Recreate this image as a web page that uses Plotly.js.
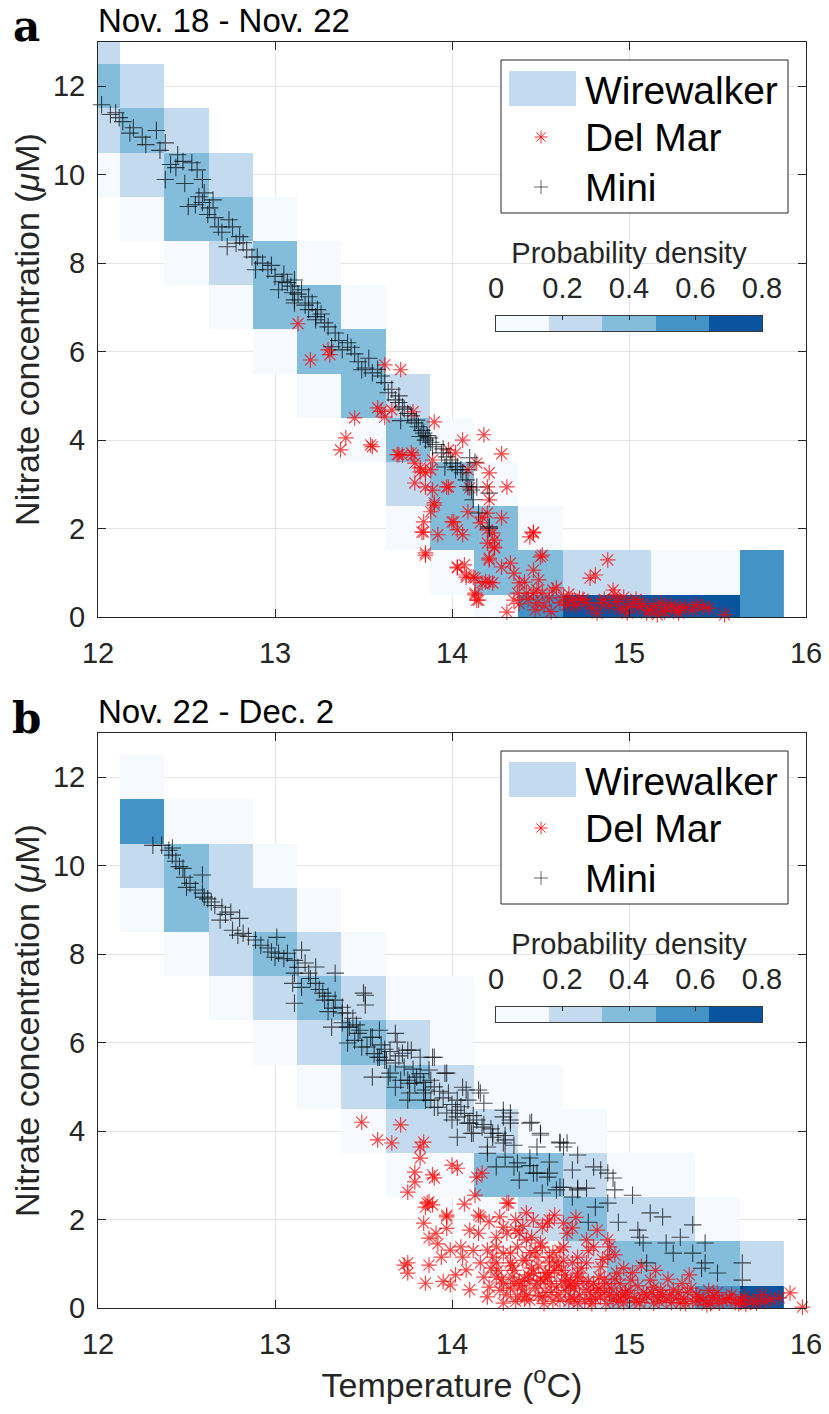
<!DOCTYPE html>
<html><head><meta charset="utf-8">
<script src="https://cdn.plot.ly/plotly-3.0.1.min.js"></script>
<style>html,body{margin:0;padding:0;background:#fff}#chart{width:829px;height:1414px}</style>
</head><body><div id="chart"></div>
<script>
// ---------- DATA ----------
const panelTitles = ['Nov. 18 - Nov. 22', 'Nov. 22 - Dec. 2'];
const panelLetters = ['a', 'b'];
const seriesNames = ['Wirewalker', 'Del Mar', 'Mini'];
const tempTicks = [12, 13, 14, 15, 16];
const nitrateTicks = [0, 2, 4, 6, 8, 10, 12];
const densityTicks = [0, 0.2, 0.4, 0.6, 0.8];
const densityTickText = ['0', '0.2', '0.4', '0.6', '0.8'];
const densityLevels = [0.08, 0.24, 0.40, 0.56, 0.72];
const densityColors = ['#f6faff', '#c4daee', '#84bcdb', '#4393c7', '#0a539e'];

// Wirewalker histogram bin centres
const binTemp = [12.0, 12.25, 12.5, 12.75, 13.0, 13.25, 13.5, 13.75, 14.0, 14.25, 14.5, 14.75, 15.0, 15.25, 15.5, 15.75];
const binNitrate = [0, 1, 2, 3, 4, 5, 6, 7, 8, 9, 10, 11, 12, 13];
const n = null;
// probability density, rows = nitrate bins (0..13), cols = temperature bins
const densityA = [
  [n,n,n,n,n,n,n,n,n,.06,.55,.75,.78,.70,.68,.58],
  [n,n,n,n,n,n,n,n,.05,.42,.38,.22,.20,.10,.09,.52],
  [n,n,n,n,n,n,n,.04,.41,.36,.07,n,n,n,n,n],
  [n,n,n,n,n,n,n,.25,.39,.06,n,n,n,n,n,n],
  [n,n,n,n,n,n,.05,.44,.08,n,n,n,n,n,n,n],
  [n,n,n,n,n,.06,.40,.27,n,n,n,n,n,n,n,n],
  [n,n,n,n,.05,.43,.38,n,n,n,n,n,n,n,n,n],
  [n,n,n,.07,.37,.41,.06,n,n,n,n,n,n,n,n,n],
  [n,n,.05,.26,.39,.04,n,n,n,n,n,n,n,n,n,n],
  [n,.06,.36,.40,.08,n,n,n,n,n,n,n,n,n,n,n],
  [.07,.22,.42,.24,n,n,n,n,n,n,n,n,n,n,n,n],
  [.21,.38,.19,n,n,n,n,n,n,n,n,n,n,n,n,n],
  [.36,.25,n,n,n,n,n,n,n,n,n,n,n,n,n,n],
  [.23,n,n,n,n,n,n,n,n,n,n,n,n,n,n,n]
];
const densityB = [
  [n,n,n,n,n,n,n,n,n,n,.06,.18,.40,.44,.57,.74],
  [n,n,n,n,n,n,n,n,n,.05,.09,.26,.37,.41,.35,.24],
  [n,n,n,n,n,n,n,n,n,.07,.22,.39,.28,.19,.06,n],
  [n,n,n,n,n,n,n,.04,.10,.36,.40,.21,.05,.03,n,n],
  [n,n,n,n,n,n,.05,.20,.27,.23,.08,.04,n,n,n,n],
  [n,n,n,n,n,.06,.25,.42,.18,.05,.03,n,n,n,n,n],
  [n,n,n,n,.07,.21,.39,.24,.06,n,n,n,n,n,n,n],
  [n,n,n,.05,.26,.36,.19,.07,.04,n,n,n,n,n,n,n],
  [n,n,.06,.23,.38,.28,.05,n,n,n,n,n,n,n,n,n],
  [n,.08,.40,.27,.18,.04,n,n,n,n,n,n,n,n,n,n],
  [n,.22,.35,.20,.05,n,n,n,n,n,n,n,n,n,n,n],
  [n,.57,.09,.06,n,n,n,n,n,n,n,n,n,n,n,n],
  [n,.07,n,n,n,n,n,n,n,n,n,n,n,n,n,n],
  [n,n,n,n,n,n,n,n,n,n,n,n,n,n,n,n]
];

// Mini mooring, panel a
const miniA_T = [12.02,12.07,12.10,12.12,12.14,12.18,12.20,12.25,12.27,12.33,12.35,12.38,12.38,12.41,12.44,12.45,12.48,12.49,12.51,12.53,12.55,12.56,12.57,12.59,12.59,12.60,12.62,12.63,12.65,12.66,12.68,12.70,12.73,12.74,12.76,12.78,12.80,12.82,12.84,12.87,12.89,12.90,12.93,12.96,12.98,13.00,13.02,13.04,13.05,13.07,13.09,13.10,13.11,13.11,13.11,13.13,13.15,13.17,13.19,13.19,13.21,13.23,13.23,13.24,13.26,13.28,13.30,13.32,13.34,13.36,13.38,13.41,13.43,13.45,13.47,13.49,13.51,13.53,13.55,13.58,13.60,13.62,13.64,13.66,13.68,13.70,13.70,13.71,13.72,13.73,13.75,13.77,13.79,13.80,13.81,13.82,13.83,13.84,13.85,13.86,13.87,13.88,13.89,13.91,13.94,13.95,13.96,13.97,13.99,14.00,14.02,14.03,14.05,14.06,14.08,14.09,14.10,14.11,14.12,14.13,14.14,14.15,14.21,14.21,14.21];
const miniA_N = [11.58,11.36,11.40,11.29,11.20,10.94,11.06,10.85,10.68,11.00,10.55,10.72,9.89,10.23,10.16,10.45,10.30,9.80,9.28,10.27,9.32,10.11,9.50,9.89,9.37,9.59,9.10,9.25,9.43,9.03,8.82,8.70,8.37,8.98,8.82,8.45,8.60,8.46,8.30,8.14,7.85,8.14,8.00,7.85,7.95,7.70,7.40,7.58,7.75,7.56,7.48,7.33,7.62,7.17,7.10,7.30,7.40,7.05,7.24,6.95,7.10,6.79,6.72,6.95,6.85,6.65,6.56,6.11,6.42,6.25,6.04,6.20,6.10,5.95,5.77,5.59,5.63,5.85,5.52,5.60,5.45,5.30,5.07,5.15,4.91,5.00,4.85,4.44,4.75,4.70,4.60,4.55,4.39,4.45,4.30,4.08,4.22,4.16,4.00,4.10,4.05,3.95,3.85,3.90,3.71,3.80,3.39,3.62,3.55,3.48,3.33,3.40,3.33,3.26,3.10,2.95,3.60,2.87,2.65,3.50,2.94,2.35,2.04,2.80,2.01];

// Del Mar mooring, panel a
const delmarA_T = [13.13,13.20,13.30,13.31,13.37,13.40,13.45,13.54,13.55,13.58,13.60,13.62,13.62,13.66,13.69,13.70,13.71,13.72,13.77,13.78,13.78,13.79,13.79,13.82,13.82,13.83,13.84,13.84,13.85,13.85,13.85,13.85,13.88,13.88,13.89,13.89,13.90,13.90,13.90,13.92,13.97,13.98,13.98,14.00,14.01,14.02,14.03,14.03,14.03,14.06,14.06,14.07,14.08,14.08,14.09,14.09,14.10,14.12,14.13,14.13,14.13,14.14,14.14,14.15,14.16,14.17,14.17,14.18,14.19,14.20,14.20,14.20,14.20,14.21,14.21,14.21,14.21,14.21,14.23,14.23,14.24,14.24,14.24,14.28,14.28,14.28,14.31,14.31,14.33,14.35,14.35,14.37,14.38,14.38,14.41,14.42,14.43,14.44,14.46,14.46,14.46,14.46,14.47,14.48,14.48,14.49,14.50,14.51,14.51,14.52,14.55,14.56,14.57,14.59,14.61,14.63,14.65,14.66,14.68,14.70,14.72,14.74,14.76,14.78,14.79,14.81,14.82,14.84,14.86,14.88,14.89,14.91,14.92,14.93,14.95,14.97,14.99,14.99,15.02,15.04,15.06,15.08,15.10,15.12,15.14,15.16,15.18,15.20,15.21,15.24,15.26,15.28,15.29,15.32,15.36,15.38,15.42,15.45,15.54];
const delmarA_N = [6.63,5.81,6.04,5.93,3.78,4.05,4.50,3.89,3.85,4.73,4.65,5.70,4.52,4.68,3.67,3.67,5.59,3.66,3.71,4.64,3.66,3.48,3.03,3.37,3.28,1.92,2.15,1.92,3.26,2.94,1.45,1.40,3.33,2.38,3.55,2.87,4.41,2.53,2.58,1.86,2.94,3.78,2.94,2.15,2.15,3.71,1.97,1.13,1.11,4.00,1.86,1.18,0.95,0.90,3.33,2.38,2.92,0.90,0.88,0.54,0.50,3.48,0.38,0.38,2.13,2.26,0.77,4.12,0.80,2.94,2.35,1.97,1.67,3.26,2.65,1.33,1.29,0.79,1.90,0.77,1.74,1.56,1.58,3.69,2.24,1.13,2.94,0.11,1.22,0.99,0.38,0.54,0.77,0.30,0.79,0.54,0.40,1.81,1.92,1.90,1.06,0.54,0.16,0.61,0.32,0.84,1.36,1.40,0.54,0.25,0.43,0.12,0.61,0.66,0.32,0.45,0.27,0.52,0.38,0.25,0.43,0.40,0.32,0.88,0.20,0.95,0.09,0.32,0.40,1.29,0.25,0.61,0.50,0.35,0.18,0.45,0.23,0.09,0.30,0.40,0.23,0.30,0.09,0.16,0.25,0.05,0.32,0.12,0.20,0.28,0.15,0.09,0.23,0.22,0.16,0.28,0.23,0.20,0.05];

// Mini mooring, panel b
const miniB_T = [12.31,12.36,12.40,12.42,12.42,12.44,12.46,12.48,12.49,12.50,12.52,12.55,12.59,12.59,12.60,12.62,12.64,12.66,12.69,12.70,12.72,12.75,12.76,12.79,12.80,12.82,12.85,12.89,12.92,12.96,12.98,13.00,13.01,13.02,13.05,13.07,13.10,13.11,13.11,13.11,13.13,13.15,13.15,13.17,13.19,13.20,13.23,13.23,13.25,13.27,13.28,13.30,13.30,13.32,13.33,13.34,13.34,13.38,13.38,13.38,13.41,13.41,13.41,13.42,13.44,13.45,13.46,13.47,13.48,13.49,13.50,13.51,13.51,13.52,13.54,13.55,13.55,13.56,13.58,13.59,13.59,13.60,13.62,13.62,13.63,13.64,13.65,13.65,13.68,13.68,13.68,13.69,13.70,13.71,13.72,13.73,13.75,13.75,13.75,13.76,13.76,13.77,13.78,13.79,13.80,13.82,13.82,13.84,13.84,13.85,13.85,13.87,13.88,13.88,13.89,13.90,13.90,13.90,13.92,13.93,13.95,13.96,13.97,13.97,13.98,14.00,14.00,14.02,14.03,14.03,14.03,14.05,14.06,14.07,14.08,14.09,14.09,14.10,14.11,14.12,14.12,14.14,14.15,14.16,14.17,14.18,14.18,14.20,14.20,14.22,14.23,14.23,14.25,14.26,14.29,14.29,14.29,14.30,14.30,14.30,14.33,14.33,14.33,14.35,14.35,14.37,14.38,14.44,14.44,14.44,14.45,14.46,14.48,14.48,14.50,14.50,14.51,14.54,14.55,14.55,14.59,14.61,14.61,14.61,14.63,14.63,14.65,14.68,14.68,14.71,14.71,14.71,14.76,14.77,14.80,14.81,14.84,14.88,14.88,14.91,14.92,14.94,15.02,15.05,15.06,15.08,15.10,15.12,15.19,15.21,15.25,15.29,15.36,15.36,15.41,15.43,15.43,15.50,15.64,15.64];
const miniB_N = [10.46,10.46,10.35,10.40,10.24,10.10,9.98,9.94,9.74,9.51,9.60,9.45,9.79,9.38,9.29,9.25,9.18,9.10,8.77,9.06,8.90,8.95,8.54,8.43,8.81,8.47,8.40,8.32,8.20,8.14,8.05,7.93,8.38,8.02,7.90,8.02,7.34,7.86,7.57,6.89,7.70,8.09,7.25,7.80,7.57,7.45,7.71,7.34,7.20,7.12,6.96,7.05,6.70,6.35,6.78,7.57,6.96,6.80,6.67,6.45,6.67,6.35,5.99,6.35,6.55,6.05,6.40,6.21,6.28,5.90,7.12,7.07,6.85,5.90,6.12,6.12,5.22,5.75,5.67,6.28,5.67,5.95,5.85,5.60,5.60,5.22,5.80,5.31,6.21,5.54,4.99,6.01,5.70,5.15,5.76,5.45,5.83,5.15,4.70,5.08,4.86,5.83,5.40,5.08,5.22,5.67,5.30,5.10,4.86,4.93,4.70,5.38,5.15,4.70,5.67,5.67,5.00,4.54,4.54,4.90,4.75,5.31,5.31,4.41,4.86,4.60,4.25,4.47,4.70,4.32,3.86,4.55,4.99,4.40,4.93,4.70,4.18,4.18,3.95,4.35,3.95,4.25,4.93,4.86,4.09,4.63,4.15,3.64,3.50,4.05,3.95,3.86,3.19,3.95,4.47,4.32,3.73,3.90,3.80,3.41,4.41,4.25,4.18,3.68,3.19,3.28,2.89,4.18,3.39,3.22,4.20,3.05,3.64,3.05,3.95,3.91,2.60,2.96,3.30,3.05,2.67,3.75,3.73,2.73,3.64,2.73,3.73,3.12,2.51,3.46,2.71,2.67,2.71,1.94,3.19,2.28,3.12,3.05,2.37,2.94,2.67,1.94,2.55,1.76,1.60,1.47,1.02,2.15,2.06,1.47,1.24,1.60,1.88,1.24,0.90,1.47,1.02,0.79,1.02,0.63];

// Del Mar mooring, panel b
const delmarB_T = [13.49,13.58,13.66,13.71,13.73,13.75,13.75,13.75,13.79,13.79,13.82,13.82,13.84,13.84,13.85,13.85,13.86,13.87,13.87,13.87,13.89,13.89,13.90,13.91,13.92,13.94,13.95,13.97,13.97,13.97,13.99,13.99,14.00,14.02,14.03,14.05,14.06,14.07,14.08,14.10,14.10,14.12,14.13,14.14,14.15,14.15,14.16,14.16,14.17,14.18,14.20,14.20,14.21,14.21,14.23,14.25,14.25,14.25,14.25,14.26,14.27,14.29,14.29,14.29,14.29,14.31,14.31,14.32,14.33,14.33,14.33,14.34,14.35,14.36,14.36,14.36,14.37,14.37,14.38,14.38,14.40,14.40,14.40,14.41,14.42,14.42,14.42,14.42,14.44,14.44,14.45,14.46,14.46,14.47,14.48,14.48,14.49,14.50,14.50,14.51,14.51,14.51,14.52,14.53,14.54,14.54,14.55,14.55,14.55,14.55,14.56,14.57,14.58,14.58,14.59,14.60,14.61,14.61,14.62,14.63,14.63,14.63,14.64,14.65,14.65,14.66,14.67,14.67,14.68,14.68,14.69,14.70,14.71,14.71,14.71,14.71,14.72,14.74,14.75,14.76,14.76,14.76,14.77,14.78,14.80,14.80,14.81,14.82,14.83,14.84,14.84,14.85,14.86,14.87,14.88,14.88,14.89,14.90,14.91,14.92,14.93,14.93,14.95,14.97,14.97,14.99,15.00,15.01,15.02,15.03,15.05,15.07,15.08,15.10,15.12,15.14,15.14,15.15,15.16,15.18,15.21,15.22,15.23,15.25,15.27,15.29,15.30,15.31,15.33,15.34,15.35,15.36,15.38,15.40,15.42,15.44,15.45,15.46,15.47,15.50,15.51,15.53,15.57,15.58,15.60,15.63,15.65,15.66,15.70,15.72,15.75,15.77,15.80,15.85,15.91,15.98,
  14.31,14.34,14.39,14.43,14.47,14.52,14.56,14.59,14.62,14.66,14.69,14.73,14.77,14.79,14.83,14.86,14.89,14.94,14.98,15.04,15.09,15.13,15.19,15.24,15.28,15.32,15.39,15.48,15.55,15.62,14.28,14.35,14.41,14.45,14.49,14.53,14.57,14.64,14.70,14.78,14.82,14.87,14.92,14.96,15.06,15.17,14.22,14.27,14.44,14.60];
const delmarB_N = [4.20,3.80,3.73,4.14,0.97,2.62,1.02,0.79,3.07,2.85,3.64,3.39,3.75,1.92,2.28,0.56,2.37,2.40,1.58,0.97,3.01,2.33,2.94,1.69,1.45,1.15,0.60,2.10,2.06,1.80,1.31,0.52,3.23,0.75,3.16,1.38,1.15,2.35,0.86,1.76,0.41,1.30,2.55,2.96,2.10,1.69,2.06,1.02,3.05,0.70,1.31,0.25,1.95,0.47,1.15,1.60,1.38,1.02,0.70,0.85,2.06,1.83,1.24,0.56,0.11,2.37,1.69,2.37,1.24,1.02,0.45,0.70,0.85,2.00,1.76,0.15,1.38,0.25,1.69,0.60,1.85,1.08,0.41,0.65,2.15,1.54,1.08,0.30,1.25,0.18,0.90,1.99,0.79,0.45,1.15,0.56,0.95,1.47,0.65,1.83,1.38,0.25,0.10,0.35,1.92,0.70,1.99,1.15,1.02,0.79,0.55,1.25,2.10,0.85,0.47,0.30,1.31,0.18,0.60,1.92,1.38,1.08,0.40,1.69,0.63,0.15,0.56,0.25,1.81,1.02,0.45,2.05,1.15,0.79,0.70,0.11,0.30,0.60,0.15,1.54,1.02,0.41,1.30,0.35,1.38,0.55,0.20,1.76,0.70,0.93,0.25,1.10,0.35,0.10,1.54,1.15,1.38,0.45,0.18,1.20,0.79,0.30,0.55,0.90,0.12,0.25,0.40,0.63,0.80,0.22,0.50,0.95,0.34,0.30,0.63,0.47,0.11,0.85,0.25,0.40,0.18,0.65,0.30,0.41,0.22,0.11,0.55,0.20,0.36,0.75,0.45,0.15,0.30,0.25,0.18,0.07,0.40,0.10,0.23,0.35,0.11,0.16,0.23,0.30,0.12,0.18,0.25,0.08,0.18,0.11,0.30,0.15,0.20,0.23,0.34,0.02,
  0.30,0.95,0.50,0.75,1.30,0.60,0.35,1.05,0.85,0.50,0.20,0.90,0.60,0.10,0.45,0.65,0.30,0.15,0.35,0.15,0.20,0.35,0.30,0.12,0.35,0.10,0.15,0.28,0.20,0.10,0.65,0.55,0.20,1.60,0.28,0.80,0.15,0.75,0.55,0.20,0.40,0.55,0.65,0.30,0.12,0.15,0.90,0.40,0.62,0.95];

// ---------- STYLE ----------
const FONT = '"Liberation Sans", Arial, Helvetica, sans-serif';
const SERIF = '"DejaVu Serif", "Liberation Serif", serif';
const INK = '#262626';

function stepScale(colors) {
  const cs = [];
  const k = colors.length;
  colors.forEach((c, i) => { cs.push([i / k, c]); cs.push([(i + 1) / k, c]); });
  return cs;
}
const CS = stepScale(densityColors);

const panels = [
  {dens: densityA, dmT: delmarA_T, dmN: delmarA_N, miT: miniA_T, miN: miniA_N},
  {dens: densityB, dmT: delmarB_T, dmN: delmarB_N, miT: miniB_T, miN: miniB_N}
];

const RED = 'rgba(255,0,0,0.72)', BLK = 'rgba(0,0,0,0.68)';
const traces = [];
panels.forEach((p, i) => {
  const xa = i === 0 ? 'x' : 'x2', ya = i === 0 ? 'y' : 'y2';
  traces.push({type: 'heatmap', x: binTemp, y: binNitrate, z: p.dens, xaxis: xa, yaxis: ya,
    colorscale: CS, zmin: 0, zmax: 0.8, showscale: false, hoverongaps: false, name: seriesNames[0]});
  traces.push({type: 'scatter', mode: 'markers', x: p.dmT, y: p.dmN, xaxis: xa, yaxis: ya, name: seriesNames[1],
    cliponaxis: false, showlegend: false,
    marker: {symbol: 'asterisk-open', size: 13, color: RED, line: {color: RED, width: 1.2}}});
  traces.push({type: 'scatter', mode: 'markers', x: p.miT, y: p.miN, xaxis: xa, yaxis: ya, name: seriesNames[2],
    cliponaxis: false, showlegend: false,
    marker: {symbol: 'cross-thin-open', size: 12.5, color: BLK, line: {color: BLK, width: 1.1}}});
  // colour bar drawn as its own small heatmap axis
  traces.push({type: 'heatmap', x: densityLevels, y: [0], z: [densityLevels],
    xaxis: i === 0 ? 'x3' : 'x4', yaxis: i === 0 ? 'y3' : 'y4',
    colorscale: CS, zmin: 0, zmax: 0.8, showscale: false, hoverinfo: 'skip'});
});

const PLOT_L = 98, PLOT_R = 806, PLOT_T = 42, PLOT_B = 1308;
const W = PLOT_R - PLOT_L, H = PLOT_B - PLOT_T;
const panelTopPx = [42, 733], panelH = 575;
function fy(px) { return (PLOT_B - px) / H; }

function mainX(anchor, withTitle) {
  const a = {anchor: anchor, domain: [0, 1], range: [12, 16], tickvals: tempTicks,
    ticks: 'inside', ticklen: 8, tickwidth: 1, tickcolor: INK,
    showline: true, linecolor: INK, linewidth: 1, mirror: 'ticks',
    showgrid: true, gridcolor: '#e4e4e4', gridwidth: 1, zeroline: false,
    tickfont: {family: FONT, size: 29, color: INK}, ticklabelstandoff: 10, automargin: false, fixedrange: true};
  if (withTitle) a.title = {text: 'Temperature (<sup>o</sup>C)', font: {family: FONT, size: 34, color: INK}, standoff: 14};
  return a;
}
function mainY(anchor, top) {
  return {anchor: anchor, domain: [fy(top + panelH), fy(top)], range: [0, 13], tickvals: nitrateTicks,
    ticks: 'inside', ticklen: 8, tickwidth: 1, tickcolor: INK,
    showline: true, linecolor: INK, linewidth: 1, mirror: 'ticks',
    showgrid: true, gridcolor: '#e4e4e4', gridwidth: 1, zeroline: false,
    tickfont: {family: FONT, size: 29, color: INK}, ticklabelstandoff: 6, automargin: false, fixedrange: true,
    title: {text: 'Nitrate concentration (<i>μ</i>M)', font: {family: FONT, size: 34, color: INK}, standoff: 3}};
}
function cbX(anchor) {
  return {anchor: anchor, domain: [(496 - PLOT_L) / W, (762 - PLOT_L) / W], range: [0, 0.8], side: 'top',
    tickvals: densityTicks, ticktext: densityTickText, ticks: 'inside', ticklen: 4, tickcolor: INK,
    showline: true, mirror: true, linecolor: '#3a3a3a', linewidth: 1.2, showgrid: false, zeroline: false,
    tickfont: {family: FONT, size: 29, color: INK}, ticklabelstandoff: 5, fixedrange: true, automargin: false,
    title: {text: 'Probability density', font: {family: FONT, size: 29, color: INK}, standoff: 0}};
}
function cbY(anchor, top) {
  return {anchor: anchor, domain: [fy(top + 289), fy(top + 274)], range: [-0.5, 0.5],
    showticklabels: false, ticks: '', showline: true, mirror: true, linecolor: '#3a3a3a', linewidth: 1.2,
    showgrid: false, zeroline: false, fixedrange: true};
}

const shapes = [], annotations = [];
[['x', 'y'], ['x2', 'y2']].forEach((ax, i) => {
  const xr = ax[0] + ' domain', yr = ax[1] + ' domain';
  const dx = px => (px - PLOT_L) / W;
  const dy = py => (617 - py) / panelH;      // pixel offsets measured on panel a
  // legend frame
  shapes.push({type: 'rect', xref: xr, yref: yr, x0: dx(501), x1: dx(788), y0: dy(213), y1: dy(60),
    fillcolor: '#ffffff', line: {color: INK, width: 1}, layer: 'above'});
  // Wirewalker swatch
  shapes.push({type: 'rect', xref: xr, yref: yr, x0: dx(509), x1: dx(576), y0: dy(106), y1: dy(71),
    fillcolor: densityColors[1], line: {width: 0}, layer: 'above'});
  // Del Mar asterisk
  shapes.push({type: 'path', xref: xr, yref: yr, xsizemode: 'pixel', ysizemode: 'pixel',
    xanchor: dx(541), yanchor: dy(137), layer: 'above',
    path: 'M-6.5,0H6.5M0,-6.5V6.5M-4.6,-4.6L4.6,4.6M-4.6,4.6L4.6,-4.6', line: {color: 'rgba(255,0,0,0.8)', width: 1}});
  // Mini cross
  shapes.push({type: 'path', xref: xr, yref: yr, xsizemode: 'pixel', ysizemode: 'pixel',
    xanchor: dx(541), yanchor: dy(187), layer: 'above',
    path: 'M-7,0H7M0,-7V7', line: {color: 'rgba(0,0,0,0.6)', width: 1}});
  [[90, seriesNames[0]], [137, seriesNames[1]], [187, seriesNames[2]]].forEach(e => {
    annotations.push({xref: xr, yref: yr, x: dx(583), y: dy(e[0]), xanchor: 'left', yanchor: 'middle',
      text: e[1], showarrow: false, font: {family: FONT, size: 39, color: '#000'}});
  });
  annotations.push({xref: xr, yref: yr, x: 0, y: dy(20), xanchor: 'left', yanchor: 'middle', xshift: -2,
    text: panelTitles[i], showarrow: false, font: {family: FONT, size: 33, color: '#000'}});
  annotations.push({xref: xr, yref: yr, x: dx(26), y: dy(27), xanchor: 'center', yanchor: 'middle',
    text: '<b>' + panelLetters[i] + '</b>', showarrow: false, font: {family: SERIF, size: 42, color: '#000'}});
});

const layout = {
  width: 829, height: 1414,
  margin: {l: PLOT_L, r: 829 - PLOT_R, t: PLOT_T, b: 1414 - PLOT_B, pad: 0},
  paper_bgcolor: '#ffffff', plot_bgcolor: '#ffffff',
  showlegend: false, font: {family: FONT, color: INK},
  xaxis: mainX('y', false), yaxis: mainY('x', panelTopPx[0]),
  xaxis2: mainX('y2', true), yaxis2: mainY('x2', panelTopPx[1]),
  xaxis3: cbX('y3'), yaxis3: cbY('x3', panelTopPx[0]),
  xaxis4: cbX('y4'), yaxis4: cbY('x4', panelTopPx[1]),
  shapes: shapes, annotations: annotations
};

Plotly.newPlot('chart', traces, layout, {displayModeBar: false, staticPlot: true});
</script></body></html>
